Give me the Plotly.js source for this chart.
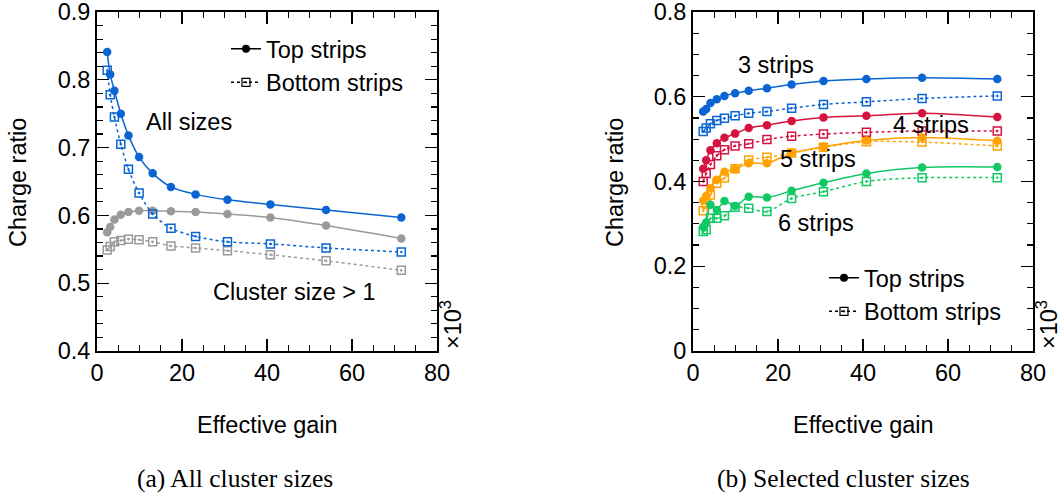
<!DOCTYPE html>
<html>
<head>
<meta charset="utf-8">
<script src="https://cdn.plot.ly/plotly-3.0.1.min.js"></script>
<style>html,body{margin:0;padding:0;background:#fff;}#chart{width:1062px;height:495px;}</style>
</head>
<body>
<div id="chart"></div>
<script>
// ---- data ----
const gain = [2.4, 3.1, 4.1, 5.6, 7.4, 9.9, 13.1, 17.4, 23.2, 30.7, 40.8, 53.9, 71.6]; // ×10^3

// (a) all cluster sizes
const allTop    = [0.841, 0.808, 0.784, 0.750, 0.718, 0.686, 0.662, 0.642, 0.631, 0.623, 0.616, 0.608, 0.597];
const allBottom = [0.814, 0.778, 0.745, 0.705, 0.668, 0.633, 0.602, 0.581, 0.569, 0.561, 0.558, 0.552, 0.546];
const gt1Top    = [0.575, 0.583, 0.594, 0.601, 0.605, 0.607, 0.607, 0.606, 0.605, 0.602, 0.597, 0.585, 0.566];
const gt1Bottom = [0.549, 0.554, 0.561, 0.563, 0.565, 0.564, 0.561, 0.555, 0.552, 0.548, 0.542, 0.533, 0.519];

// (b) selected cluster sizes
const s3Top    = [0.565, 0.571, 0.585, 0.594, 0.602, 0.608, 0.614, 0.620, 0.629, 0.637, 0.642, 0.645, 0.642];
const s3Bottom = [0.518, 0.526, 0.536, 0.544, 0.549, 0.555, 0.561, 0.565, 0.573, 0.582, 0.588, 0.596, 0.602];
const s4Top    = [0.430, 0.450, 0.474, 0.490, 0.503, 0.513, 0.526, 0.533, 0.543, 0.551, 0.555, 0.561, 0.552];
const s4Bottom = [0.400, 0.419, 0.440, 0.461, 0.475, 0.484, 0.489, 0.499, 0.507, 0.512, 0.516, 0.519, 0.519];
const s5Top    = [0.355, 0.366, 0.384, 0.404, 0.423, 0.429, 0.443, 0.443, 0.467, 0.482, 0.497, 0.504, 0.496];
const s5Bottom = [0.331, 0.347, 0.368, 0.396, 0.408, 0.430, 0.451, 0.457, 0.467, 0.481, 0.494, 0.493, 0.484];
const s6Top    = [0.293, 0.303, 0.345, 0.333, 0.354, 0.342, 0.364, 0.362, 0.378, 0.397, 0.419, 0.433, 0.434];
const s6Bottom = [0.282, 0.286, 0.313, 0.313, 0.319, 0.339, 0.337, 0.329, 0.360, 0.376, 0.400, 0.409, 0.409];

const legendLabels = ["Top strips", "Bottom strips"];
const captions = ["(a) All cluster sizes", "(b) Selected cluster sizes"];

// ---- styling ----
const BLUE = "#0a64d2", GRAY = "#9a9a9a", RED = "#d6123e", ORANGE = "#ffa200", GREEN = "#12c864";
const SANS = "Liberation Sans, Arial, sans-serif";
const SERIF = "Liberation Serif, Times New Roman, serif";
const FS = 23.5;

function topTrace(y, color, xa, ya) {
  return {x: gain, y: y, xaxis: xa, yaxis: ya, mode: "lines+markers", showlegend: false,
    line: {color: color, width: 1.5, shape: "spline", smoothing: 0.8},
    marker: {symbol: "circle", size: 8.5, color: color}};
}
function botTrace(y, color, xa, ya) {
  return {x: gain, y: y, xaxis: xa, yaxis: ya, mode: "lines+markers", showlegend: false,
    line: {color: color, width: 1.5, dash: "dot", shape: "spline", smoothing: 0.8},
    marker: {symbol: "square-open-dot", size: 8, color: color, line: {width: 1.5, color: color}}};
}
function legTop(lg, xa, ya) {
  return {x: [null], y: [null], xaxis: xa, yaxis: ya, mode: "lines+markers", name: legendLabels[0],
    legend: lg, legendgroup: lg + "a", line: {color: "#000", width: 1.5},
    marker: {symbol: "circle", size: 8, color: "#000"}};
}
function legBot(lg, xa, ya) {
  return {x: [null], y: [null], xaxis: xa, yaxis: ya, mode: "lines+markers", name: legendLabels[1],
    legend: lg, legendgroup: lg + "b", line: {color: "#000", width: 1.5, dash: "dot"},
    marker: {symbol: "square-open-dot", size: 8, color: "#000", line: {width: 1.2, color: "#000"}}};
}

const traces = [
  topTrace(gt1Top, GRAY, "x", "y"), botTrace(gt1Bottom, GRAY, "x", "y"),
  topTrace(allTop, BLUE, "x", "y"), botTrace(allBottom, BLUE, "x", "y"),
  topTrace(s3Top, BLUE, "x2", "y2"), botTrace(s3Bottom, BLUE, "x2", "y2"),
  topTrace(s4Top, RED, "x2", "y2"), botTrace(s4Bottom, RED, "x2", "y2"),
  topTrace(s5Top, ORANGE, "x2", "y2"), botTrace(s5Bottom, ORANGE, "x2", "y2"),
  topTrace(s6Top, GREEN, "x2", "y2"), botTrace(s6Bottom, GREEN, "x2", "y2"),
  legTop("legend", "x", "y"), legBot("legend", "x", "y"),
  legTop("legend2", "x2", "y2"), legBot("legend2", "x2", "y2")
];

function xax(domain, anchor) {
  return {domain: domain, anchor: anchor, range: [0, 80], dtick: 20, tick0: 0,
    ticks: "inside", ticklen: 12, tickwidth: 1.2, tickcolor: "#000",
    minor: {dtick: 5, ticklen: 6, tickwidth: 1.2, tickcolor: "#000", ticks: "inside"},
    showline: true, linewidth: 2, linecolor: "#000", mirror: "allticks", ticklabeloverflow: "allow",
    showgrid: false, zeroline: false, tickfont: {family: SANS, size: FS, color: "#000"}};
}
function yax(domain, anchor, range, dtick, mdtick) {
  return {domain: domain, anchor: anchor, range: range, dtick: dtick, tick0: 0,
    ticks: "inside", ticklen: 12, tickwidth: 1.2, tickcolor: "#000",
    minor: {dtick: mdtick, ticklen: 6, tickwidth: 1.2, tickcolor: "#000", ticks: "inside"},
    showline: true, linewidth: 2, linecolor: "#000", mirror: "allticks", ticklabeloverflow: "allow",
    showgrid: false, zeroline: false, tickfont: {family: SANS, size: FS, color: "#000"}};
}

const W = 1062;
const py = (p) => 1 - (p - 12) / 339;
const ann = (x, y, text, xref, yref, extra) => Object.assign({x: x, y: y, text: text, xref: xref, yref: yref,
  xanchor: "center", yanchor: "middle",
  showarrow: false, font: {family: SANS, size: FS, color: "#000"}}, extra || {});

const layout = {
  width: 1062, height: 495,
  margin: {l: 0, r: 0, t: 12, b: 144},
  paper_bgcolor: "#fff", plot_bgcolor: "#fff",
  font: {family: SANS, color: "#000"},
  xaxis: xax([97 / W, 437 / W], "y"),
  yaxis: yax([0, 1], "x", [0.4, 0.9], 0.1, 0.02),
  xaxis2: xax([693 / W, 1033 / W], "y2"),
  yaxis2: yax([0, 1], "x2", [0, 0.8], 0.2, 0.05),
  legend: {x: 226 / W, y: py(27), xref: "paper", yref: "paper", xanchor: "left", yanchor: "top",
    bgcolor: "rgba(0,0,0,0)", font: {family: SANS, size: FS, color: "#000"}, tracegroupgap: 2, traceorder: "normal"},
  legend2: {x: 824 / W, y: py(256), xref: "paper", yref: "paper", xanchor: "left", yanchor: "top",
    bgcolor: "rgba(0,0,0,0)", font: {family: SANS, size: FS, color: "#000"}, tracegroupgap: 0, traceorder: "normal"},
  annotations: [
    ann(11.0, 0.738, "All sizes", "x", "y", {xanchor: "left"}),
    ann(26.8, 0.487, "Cluster size > 1", "x", "y", {xanchor: "left"}),
    ann(10.0, 0.675, "3 strips", "x2", "y2", {xanchor: "left"}),
    ann(46.7, 0.533, "4 strips", "x2", "y2", {xanchor: "left"}),
    ann(20.1, 0.453, "5 strips", "x2", "y2", {xanchor: "left"}),
    ann(19.6, 0.302, "6 strips", "x2", "y2", {xanchor: "left"}),
    // axis titles
    ann(18 / W, py(183), "Charge ratio", "paper", "paper", {textangle: -90}),
    ann(615 / W, py(183), "Charge ratio", "paper", "paper", {textangle: -90}),
    ann(267 / W, py(425), "Effective gain", "paper", "paper"),
    ann(863 / W, py(425), "Effective gain", "paper", "paper"),
    // exponent labels
    ann(451 / W, py(325), "×10<sup>3</sup>", "paper", "paper", {textangle: -90}),
    ann(1047 / W, py(325), "×10<sup>3</sup>", "paper", "paper", {textangle: -90}),
    // captions
    ann(235 / W, py(478), captions[0], "paper", "paper", {font: {family: SERIF, size: 25.5, color: "#000"}}),
    ann(843 / W, py(478), captions[1], "paper", "paper", {font: {family: SERIF, size: 25.5, color: "#000"}})
  ]
};

Plotly.newPlot("chart", traces, layout, {displayModeBar: false, staticPlot: true});
</script>
</body>
</html>
